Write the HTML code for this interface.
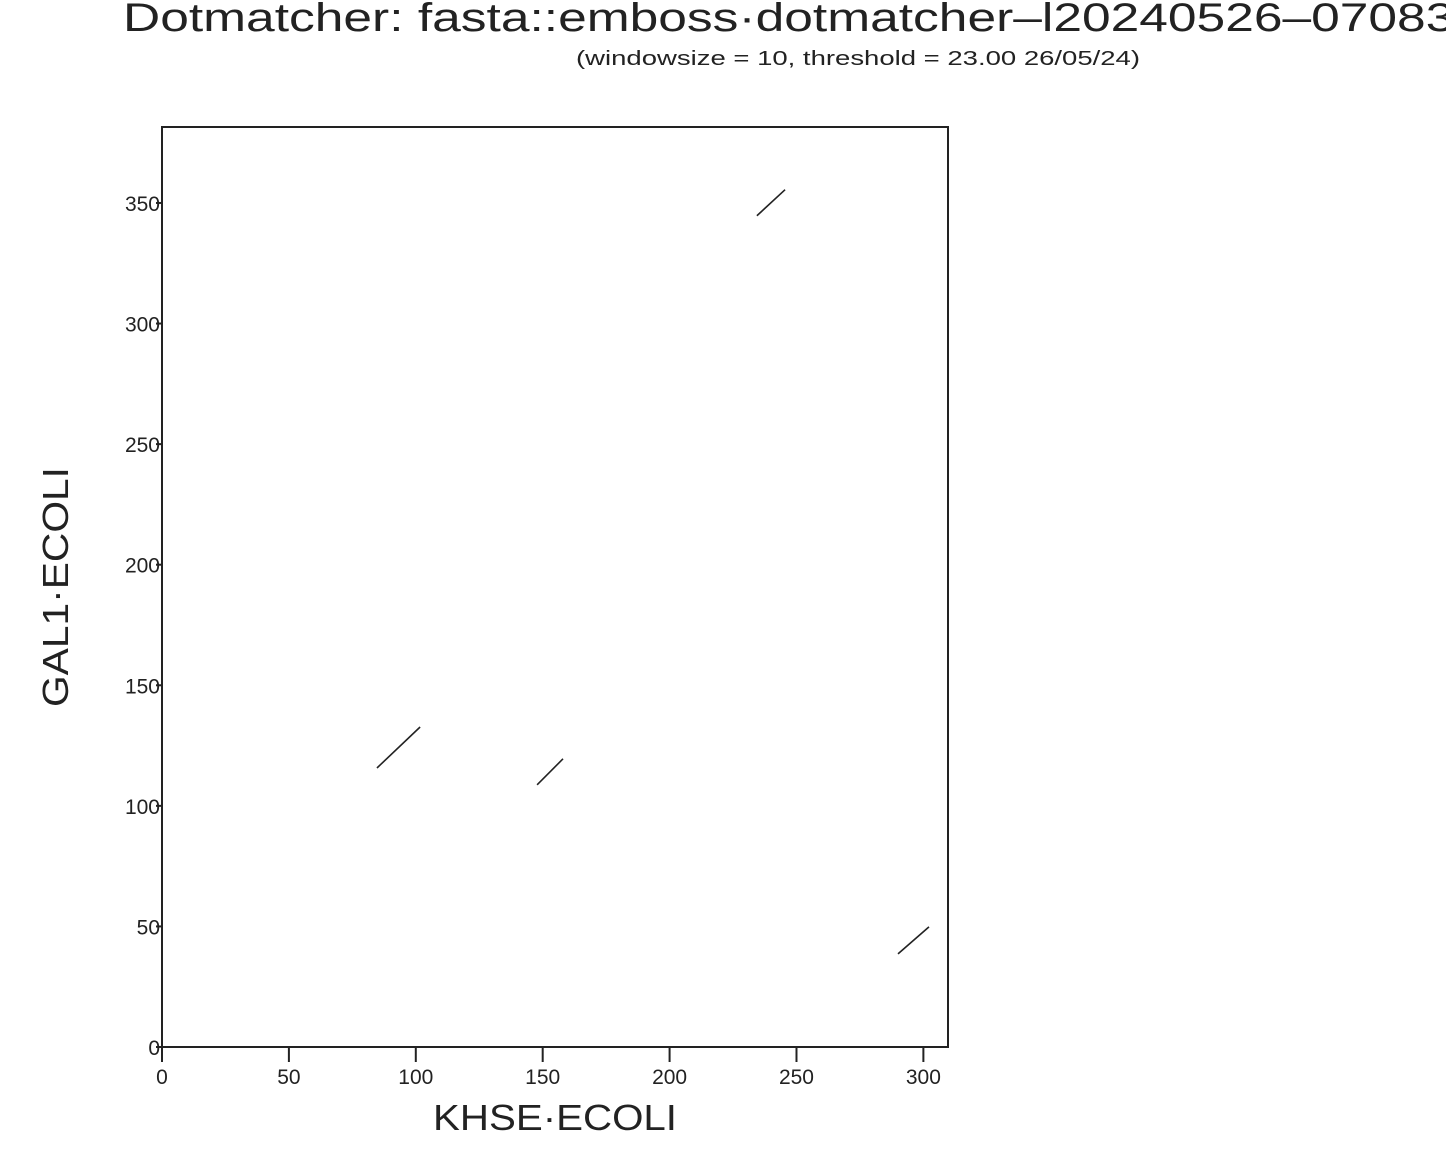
<!DOCTYPE html>
<html><head><meta charset="utf-8"><style>
html,body{margin:0;padding:0;background:#fff;}
svg{display:block;}
text{font-family:"Liberation Sans",sans-serif;fill:#222;}
</style></head><body>
<svg id="chart" width="1446" height="1174" viewBox="0 0 1446 1174" xmlns="http://www.w3.org/2000/svg">
<text x="123" y="31" font-size="40" textLength="1360" lengthAdjust="spacingAndGlyphs">Dotmatcher: fasta::emboss·dotmatcher–l20240526–070833</text>
<text x="576" y="65" font-size="20" textLength="564" lengthAdjust="spacingAndGlyphs">(windowsize = 10, threshold = 23.00  26/05/24)</text>
<rect x="162" y="127" width="786" height="920" fill="none" stroke="#222" stroke-width="2"/>
<g id="xticks"></g><g id="yticks"></g><g id="marks"></g>
<text x="555" y="1130" font-size="36" text-anchor="middle" textLength="244" lengthAdjust="spacingAndGlyphs">KHSE·ECOLI</text>
<text transform="translate(68,587) rotate(-90)" font-size="36" text-anchor="middle" textLength="240" lengthAdjust="spacingAndGlyphs">GAL1·ECOLI</text>
</svg>
<script>
const xTicks=[0,50,100,150,200,250,300];
const yTicks=[0,50,100,150,200,250,300,350];
const segStartX=[84.7,147.8,234.4,290.0];
const segStartY=[115.7,108.7,344.7,38.6];
const segEndX=[101.7,158.0,245.5,302.2];
const segEndY=[132.7,119.5,355.5,49.8];
const X0=162,X1=948,Y0=1047,Y1=127,XMAX=309.7,YMAX=381.5;
const sx=v=>X0+v*(X1-X0)/XMAX;
const sy=v=>Y0-v*(Y0-Y1)/YMAX;
const NS="http://www.w3.org/2000/svg";
function mk(t,a){const e=document.createElementNS(NS,t);for(const k in a)e.setAttribute(k,a[k]);return e;}
const gx=document.getElementById('xticks'),gy=document.getElementById('yticks'),gm=document.getElementById('marks');
xTicks.forEach(v=>{
 const l=mk('line',{x1:sx(v),x2:sx(v),y1:Y0,y2:Y0+15,stroke:'#222','stroke-width':2});
 
 
 gx.appendChild(l);
 const t=mk('text',{x:sx(v),y:Y0+37,'font-size':21,'text-anchor':'middle'});
 t.textContent=v;
 
 
 gx.appendChild(t);
});
yTicks.forEach(v=>{
 const l=mk('line',{x1:X0-6,x2:X0,y1:sy(v),y2:sy(v),stroke:'#222','stroke-width':2});
 
 
 gy.appendChild(l);
 const t=mk('text',{x:X0-2,y:sy(v)+8,'font-size':21,'text-anchor':'end'});
 t.textContent=v;
 
 
 gy.appendChild(t);
});
segStartX.forEach((v,i)=>{
 const l=mk('line',{x1:sx(v),y1:sy(segStartY[i]),x2:sx(segEndX[i]),y2:sy(segEndY[i]),stroke:'#222','stroke-width':1.6});
 
 
 gm.appendChild(l);
});
</script>
</body></html>
